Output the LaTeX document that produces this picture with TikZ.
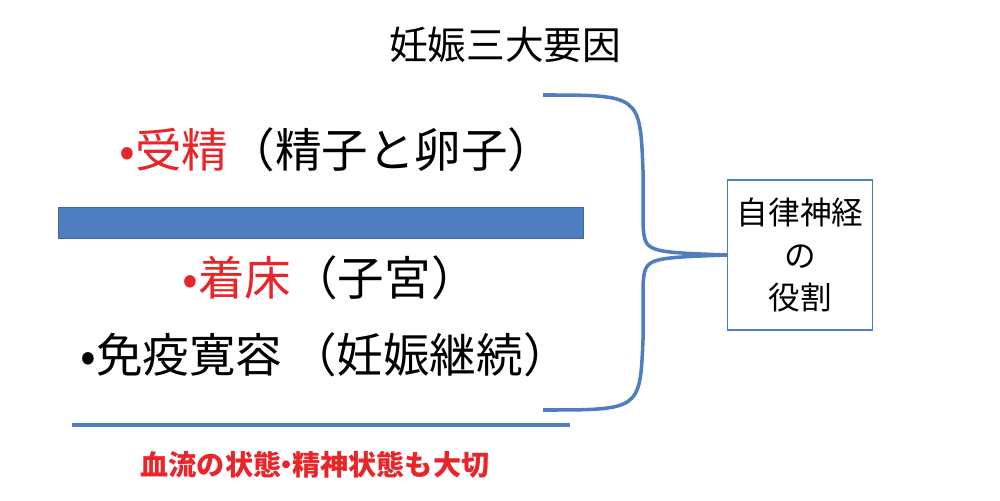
\documentclass[tikz,border=0pt]{standalone}
\usepackage{fontspec}
\newfontfamily\jp{Noto Sans CJK JP}
\usetikzlibrary{positioning}
\definecolor{barblue}{HTML}{4F7EC0}
\definecolor{jred}{HTML}{E8262A}
\tikzset{
	bigtxt/.style={font=\jp\fontsize{26.5}{30}\selectfont,inner sep=0pt},
	boxtxt/.style={draw=barblue,thick,font=\jp\fontsize{18}{24}\selectfont,align=center,minimum width=2.9cm,minimum height=3cm}
}
\begin{document}
\begin{tikzpicture}[x=0.02cm,y=-0.02cm]
		\useasboundingbox (0,0) rectangle (1000,500);
		\node (title) at (505,45) {\jp\fontsize{22}{26}\selectfont 妊娠三大要因};
		\node[bigtxt] (fert) at (337,150) {\textcolor{jred}{•受精}（精子と卵子）};
		\draw[draw=barblue!80!black,fill=barblue] (58,207) rectangle (583,238);
		\node[bigtxt] (impl) at (330,278) {\textcolor{jred}{•着床}（子宮）};
		\node[bigtxt] (immu) at (325,355) {•免疫寛容\,（妊娠継続）};
		\draw[barblue,line width=2pt] (72,425) -- (570,425);
		\node[text=jred] (blood) at (315,465) {\jp\fontsize{16}{18}\selectfont\bfseries 血流の状態\kern-0.3em・\kern-0.3em精神状態も大切};
		
		% brace and box
		\node[boxtxt] (role) at (800,255) {自律神経\\の\\役割};
		\coordinate (btop) at (543,95);
		\coordinate (bbot) at (543,410);
		\draw[barblue,line width=2pt] (btop) .. controls (640,95) .. (643,170)
			-- (643,225) .. controls (645,252) .. (role.west)
			.. controls (645,258) .. (643,285) -- (643,340)
			.. controls (640,410) .. (bbot);
\end{tikzpicture}
\end{document}
